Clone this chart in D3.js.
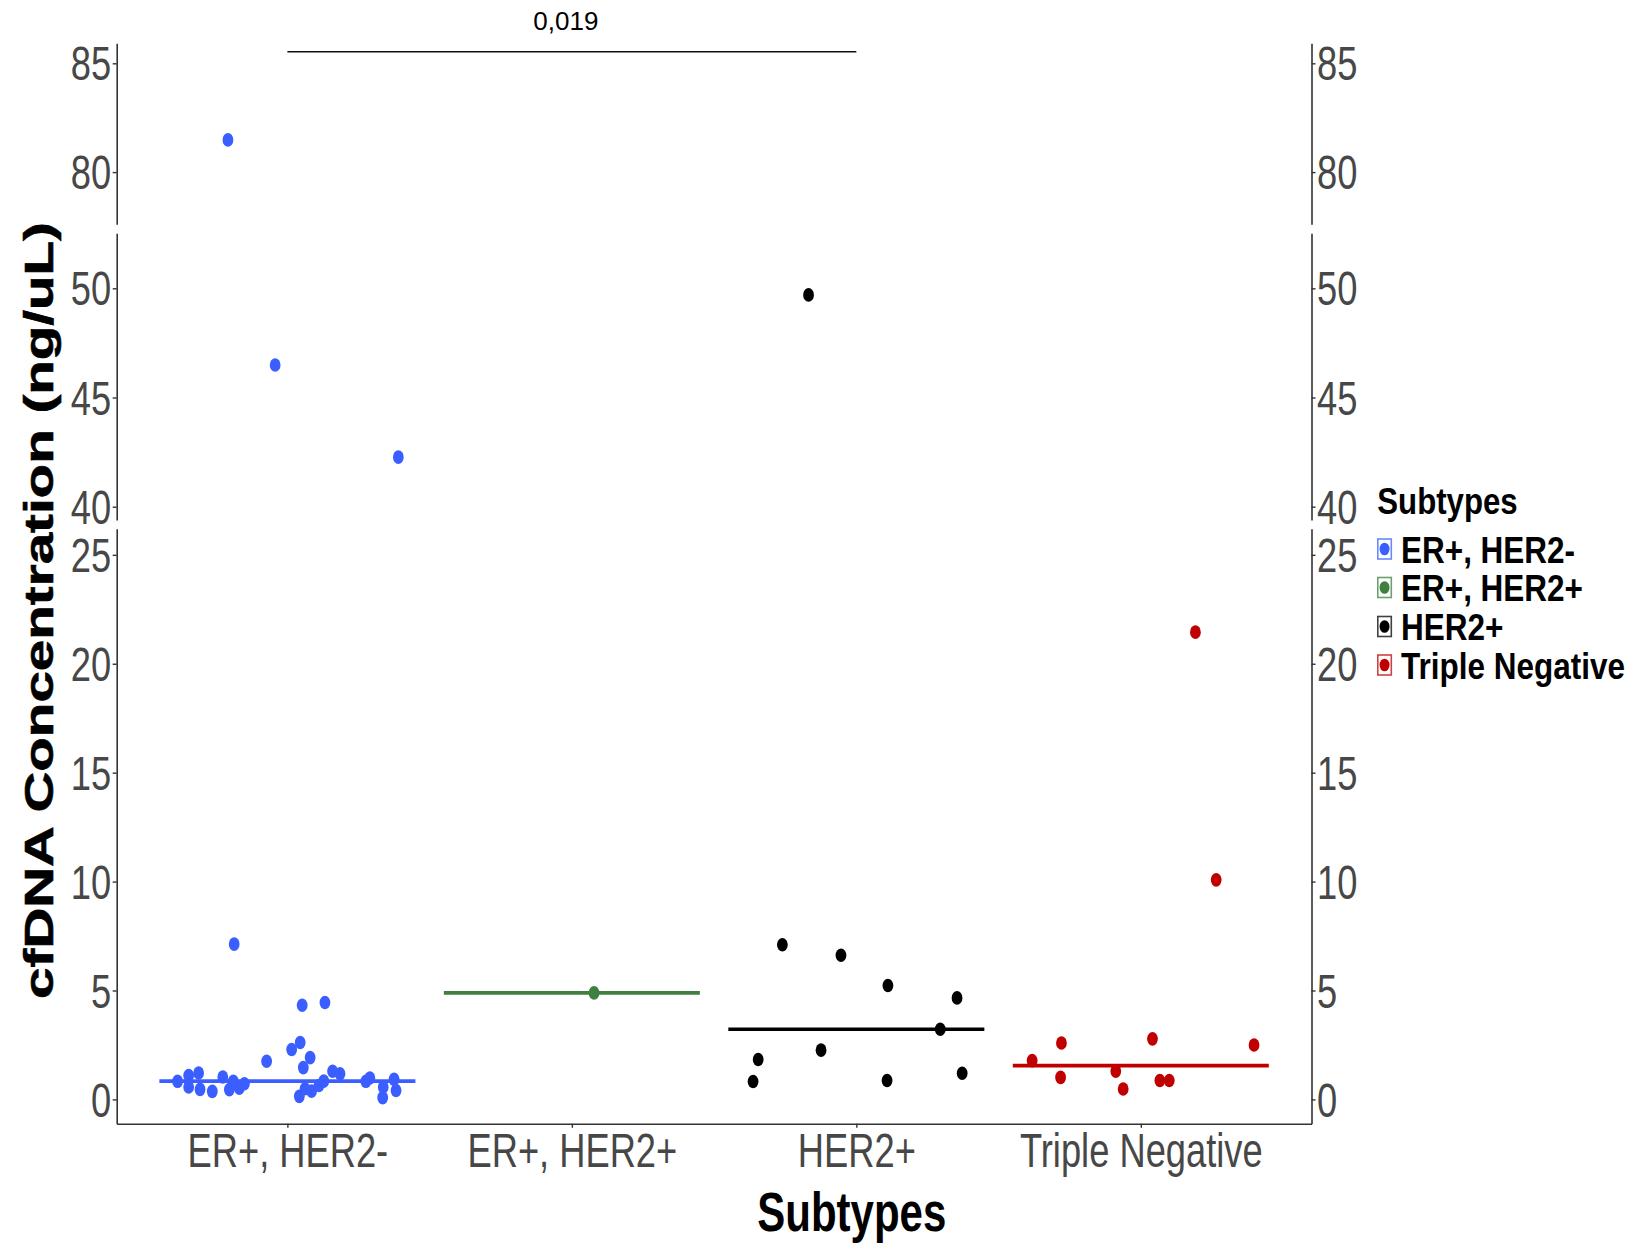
<!DOCTYPE html>
<html>
<head>
<meta charset="utf-8">
<script src="https://cdn.jsdelivr.net/npm/d3@7"></script>
<style>
  html, body { margin: 0; padding: 0; background: #ffffff; }
  svg { display: block; }
  text { font-family: "Liberation Sans", Arial, sans-serif; }
</style>
</head>
<body>
<script>
// ---------------- DATA ----------------
const categories = ["ER+, HER2-", "ER+, HER2+", "HER2+", "Triple Negative"];
const colors = ["#3a5eff", "#3f7f3f", "#000000", "#c00000"];

// values (ng/uL) and horizontal jitter offsets (in category widths)
const erNegValues  = [81.48, 46.49, 42.27, 7.13, 4.32, 4.45, 2.61, 2.29, 1.75, 1.92, 1.46, 1.29, 1.18,
                      0.83, 1.10, 0.57, 1.21, 0.46, 0.37, 1.03, 0.83, 0.45, 0.52, 0.72,
                      0.14, 0.49, 0.38, 0.64, 0.84, 0.83, 0.98, 0.57, 0.08, 0.92, 0.41];
const erNegJitter  = [-0.209, -0.043, 0.390, -0.187, 0.052, 0.132, 0.045, 0.015, -0.073, 0.080, 0.056, 0.159, 0.185,
                      -0.386, -0.347, -0.347, -0.312, -0.307, -0.264, -0.227, -0.190, -0.204, -0.169, -0.151,
                      0.042, 0.062, 0.085, 0.111, 0.128, 0.276, 0.290, 0.337, 0.335, 0.375, 0.382];
const erPosValues  = [4.89];
const erPosJitter  = [0.078];
const her2Values   = [49.7, 7.10, 6.62, 5.23, 4.66, 3.22, 1.83, 2.26, 0.82, 0.87, 1.20];
const her2Jitter   = [-0.168, -0.260, -0.054, 0.111, 0.354, 0.295, -0.345, -0.124, -0.363, 0.108, 0.372];
const tnValues     = [21.45, 10.08, 1.78, 2.59, 1.01, 1.30, 0.48, 2.78, 0.87, 0.87, 2.50];
const tnJitter     = [0.192, 0.265, -0.382, -0.279, -0.282, -0.088, -0.062, 0.041, 0.067, 0.100, 0.398];

const medians = [0.84, 4.89, 3.22, 1.55];

// broken y axis: three panels
const topDomain = [77.6, 85.92];
const midDomain = [39.39, 52.52];
const lowDomain = [-1.12, 26.2];
const topTicks = [80, 85];
const midTicks = [40, 45, 50];
const lowTicks = [0, 5, 10, 15, 20, 25];

const sigLabel = "0,019";
const sigLevel = 85.53;
const sigFrom = "ER+, HER2-";
const sigTo = "HER2+";

const yTitle = "cfDNA Concentration (ng/uL)";
const xTitle = "Subtypes";
const legendTitle = "Subtypes";

// ---------------- LAYOUT ----------------
const W = 1640, H = 1245;
const left = 116.7, right = 1311.5;
const K = 1.35;              // vertical stretch of the tick text
const tickFs = 36.3 * K;

const svg = d3.select("body").append("svg").attr("width", W).attr("height", H);

const x = d3.scalePoint().domain(categories).range([left, right]).padding(0.6);
const step = x.step();

const panels = [
  { domain: topDomain, range: [224.3, 43.3], ticks: topTicks },
  { domain: midDomain, range: [520.0, 233.3], ticks: midTicks },
  { domain: lowDomain, range: [1123.8, 528.7], ticks: lowTicks }
];
panels.forEach(p => { p.y = d3.scaleLinear().domain(p.domain).range(p.range); });
function panelFor(v) {
  if (v >= topDomain[0]) return panels[0];
  if (v >= midDomain[0]) return panels[1];
  return panels[2];
}

function styleAxis(g) {
  g.selectAll(".domain").attr("stroke", "#333").attr("stroke-width", 1.6);
  g.selectAll(".tick line").attr("stroke", "#333").attr("stroke-width", 1.4);
  g.selectAll(".tick text")
    .attr("fill", "#474747")
    .attr("font-size", tickFs)
    .attr("font-family", "Liberation Sans, Arial, sans-serif");
}
function squeezeX(g) {
  g.selectAll(".tick text").each(function () {
    const t = d3.select(this);
    const xx = +t.attr("x") || 0;
    t.attr("x", xx * K).attr("transform", `scale(${1 / K},1)`);
  });
}

// y axes left and right
panels.forEach(p => {
  const gl = svg.append("g").attr("transform", `translate(${left},0)`)
    .call(d3.axisLeft(p.y).tickValues(p.ticks).tickSize(4).tickPadding(1.5).tickSizeOuter(0));
  styleAxis(gl); squeezeX(gl);
  gl.selectAll(".tick text").attr("dy", "0.34em");
  const gr = svg.append("g").attr("transform", `translate(${right},0)`)
    .call(d3.axisRight(p.y).tickValues(p.ticks).tickSize(4).tickPadding(1.5).tickSizeOuter(0));
  styleAxis(gr); squeezeX(gr);
  gr.selectAll(".tick text").attr("dy", "0.34em");
});

// x axis
const gx = svg.append("g").attr("transform", `translate(0,${panels[2].range[0]})`)
  .call(d3.axisBottom(x).tickSize(4).tickPadding(4.5).tickSizeOuter(0));
styleAxis(gx);
gx.selectAll(".tick text").attr("dy", "0.71em").attr("transform", `scale(${1 / K},1)`);

// groups
const groups = [
  { values: erNegValues, jitter: erNegJitter },
  { values: erPosValues, jitter: erPosJitter },
  { values: her2Values, jitter: her2Jitter },
  { values: tnValues, jitter: tnJitter }
];

const plot = svg.append("g");
groups.forEach((g, i) => {
  const cx = x(categories[i]);
  const pts = g.values.map((v, j) => ({ v, dx: g.jitter[j] }));
  plot.selectAll(null).data(pts).enter().append("ellipse")
    .attr("cx", d => cx + d.dx * step)
    .attr("cy", d => panelFor(d.v).y(d.v))
    .attr("rx", 5.4).attr("ry", 6.8)
    .attr("fill", colors[i]);
  const ly = panels[2].y(medians[i]);
  plot.append("line")
    .attr("x1", cx - 0.45 * step).attr("x2", cx + 0.45 * step)
    .attr("y1", ly).attr("y2", ly)
    .attr("stroke", colors[i]).attr("stroke-width", 3.6);
});

// significance bracket
const sy = panels[0].y(sigLevel);
svg.append("line").attr("x1", x(sigFrom)).attr("x2", x(sigTo))
  .attr("y1", sy).attr("y2", sy).attr("stroke", "#111").attr("stroke-width", 1.6);
svg.append("text").attr("x", (x(sigFrom) + x(sigTo)) / 2 - 6).attr("y", sy - 21.7)
  .attr("text-anchor", "middle").attr("font-size", 26).attr("fill", "#000").text(sigLabel);

// axis titles
svg.append("g").attr("transform", `translate(851.8,1231)`)
  .append("text").attr("text-anchor", "middle").attr("font-weight", "bold")
  .attr("font-size", 42 * 1.3).attr("transform", `scale(${1 / 1.3},1)`).attr("fill", "#000").text(xTitle);

const yt = svg.append("g").attr("transform", `translate(53,610.5) rotate(-90)`)
  .append("text").attr("text-anchor", "middle").attr("font-weight", "bold")
  .attr("font-size", 40).attr("fill", "#000").attr("stroke", "#000").attr("stroke-width", 0.6).text(yTitle);
const nat = yt.node().getComputedTextLength();
yt.attr("transform", `scale(${777 / nat},1)`);

// legend
const lg = svg.append("g");
const legX = 1377.3, LK = 1.18, legFs = 31.5 * LK;
lg.append("text").attr("transform", `translate(${legX},514) scale(${1 / LK},1)`)
  .attr("font-weight", "bold").attr("font-size", 31.2 * LK).attr("fill", "#000").text(legendTitle);
const rowY = [549, 587.5, 626.5, 665];
categories.forEach((c, i) => {
  const cy = rowY[i];
  lg.append("rect").attr("x", legX + 0.5).attr("y", cy - 10).attr("width", 13.5).attr("height", 20)
    .attr("fill", "#fff").attr("stroke", colors[i]).attr("stroke-opacity", 0.75).attr("stroke-width", 1.6);
  lg.append("ellipse").attr("cx", legX + 7.25).attr("cy", cy).attr("rx", 5).attr("ry", 6.3).attr("fill", colors[i]);
  lg.append("text").attr("transform", `translate(1401,${cy + 13.5}) scale(${1 / LK},1)`)
    .attr("font-weight", "bold").attr("font-size", legFs).attr("fill", "#000").text(c);
});
</script>
</body>
</html>
